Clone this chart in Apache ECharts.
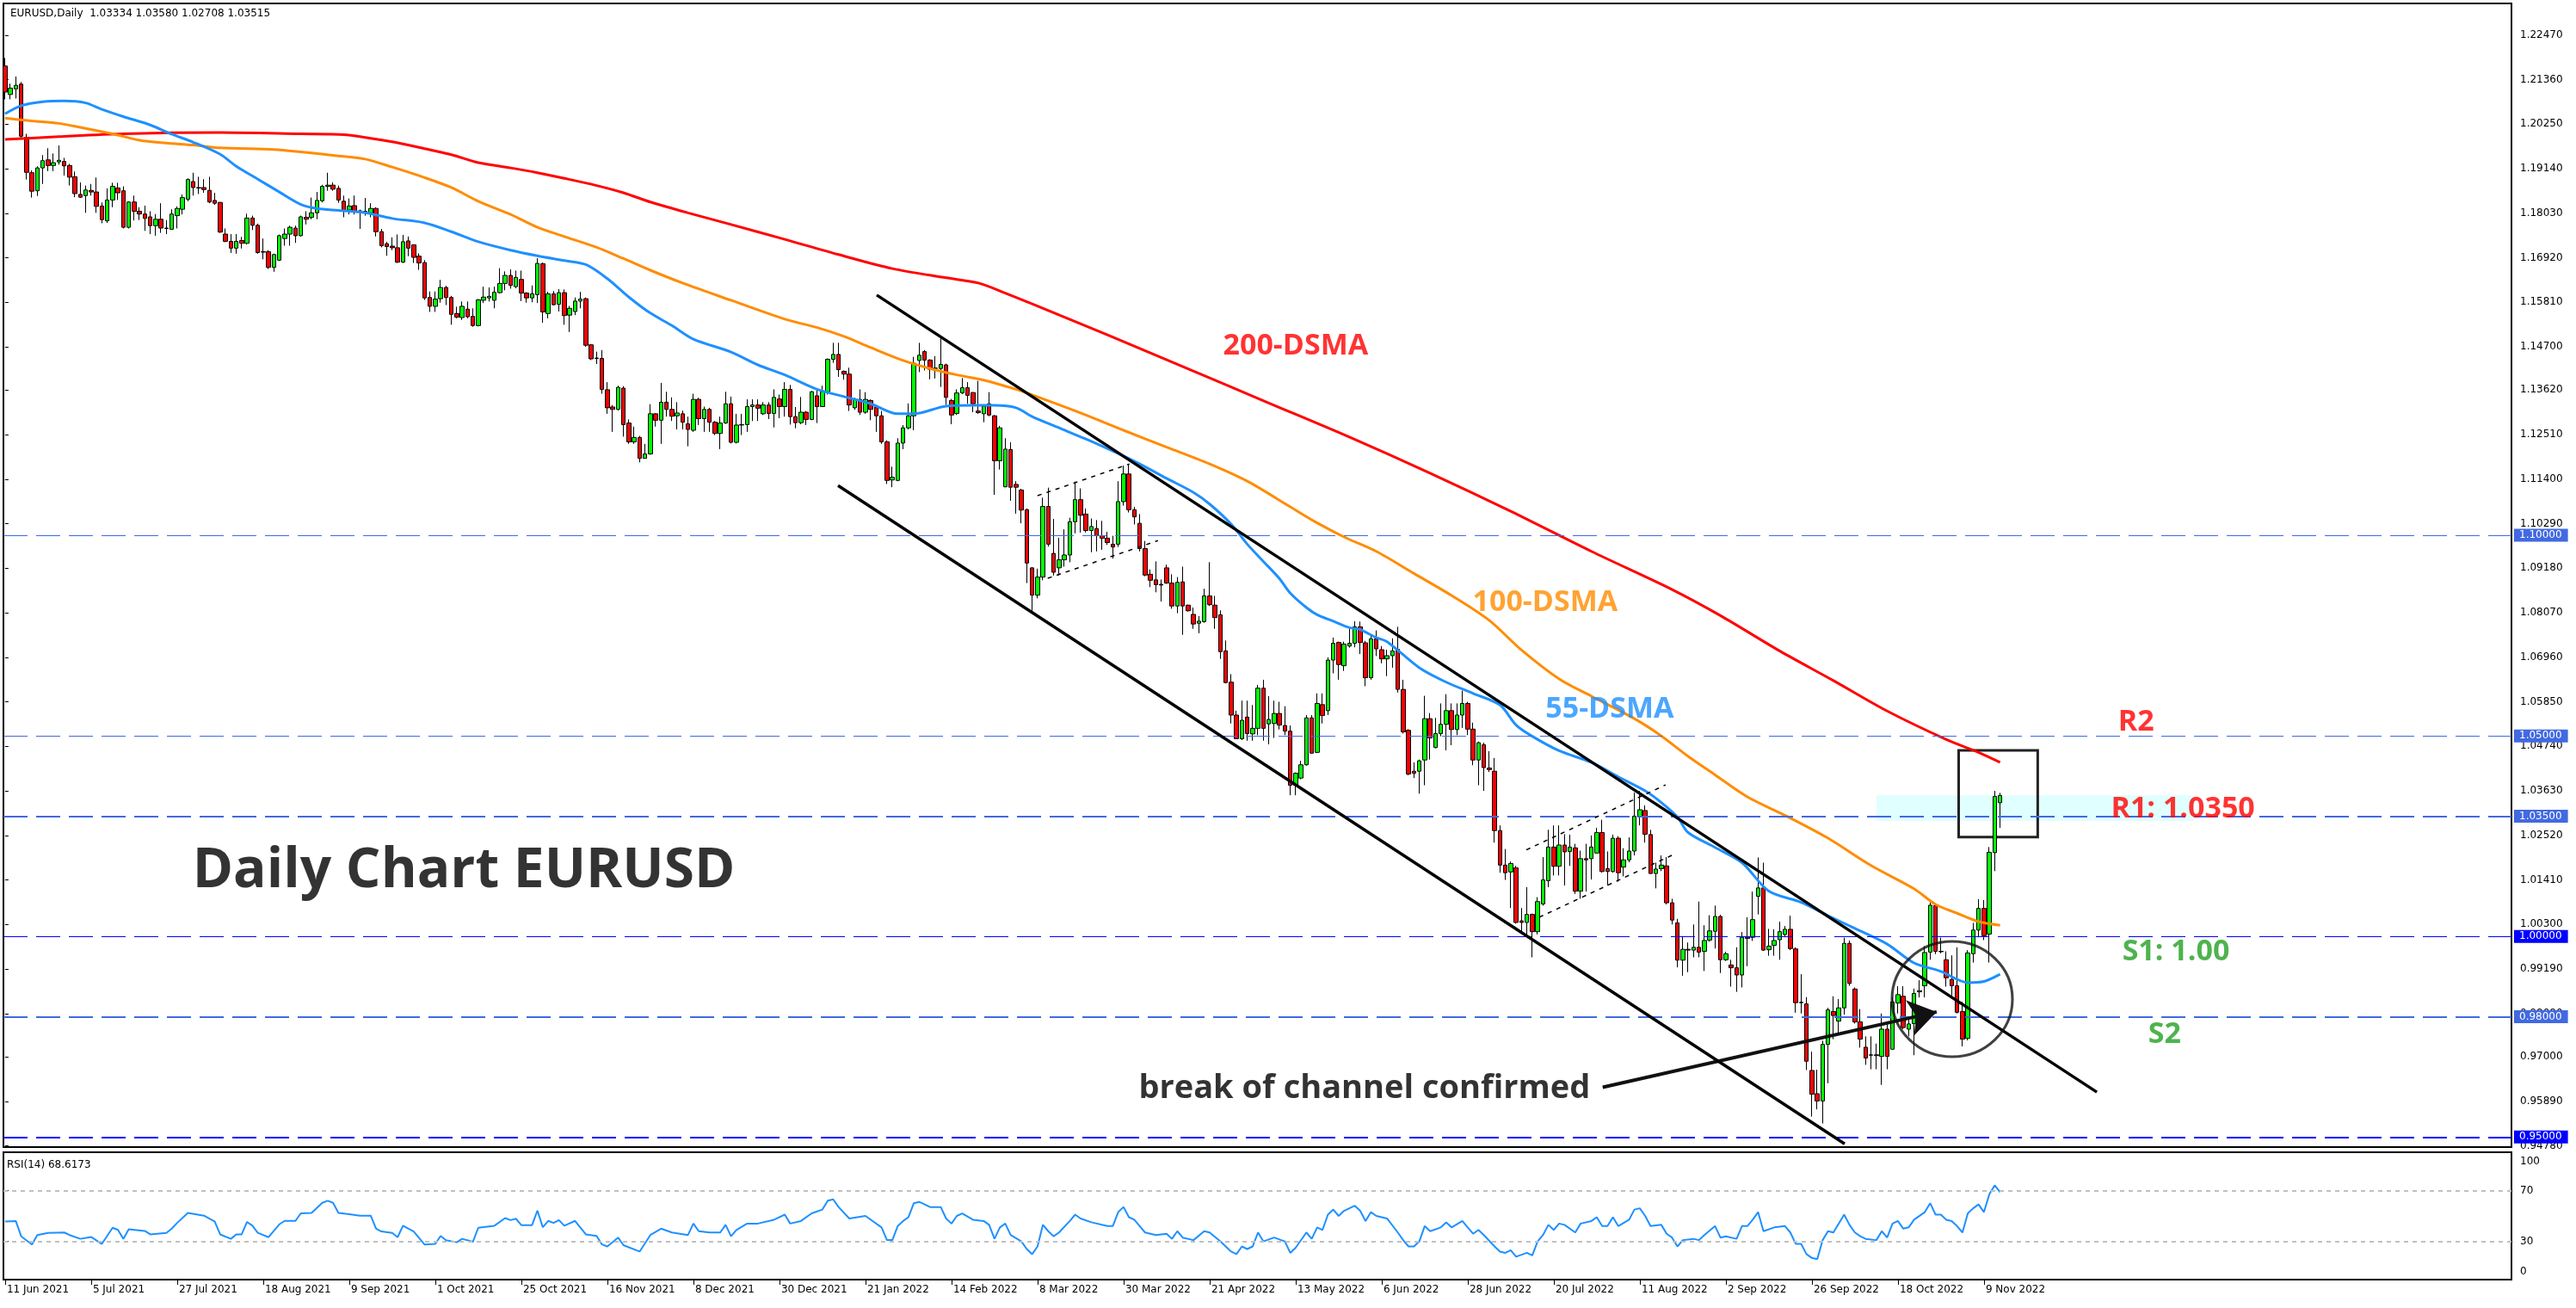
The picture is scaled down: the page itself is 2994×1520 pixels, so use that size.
<!DOCTYPE html>
<html><head><meta charset="utf-8">
<script src="https://cdn.jsdelivr.net/npm/echarts@6/dist/echarts.min.js"></script>
<style>html,body{margin:0;padding:0;background:#fff}#c{width:2994px;height:1520px}</style>
</head><body><div id="c"></div>
<script>
// ---------------- DATA ----------------
const symbolName = 'EURUSD,Daily';
const lastQuote = '1.03334 1.03580 1.02708 1.03515';

const opens = [
1.2170,1.2099,1.2113,1.2125,1.1992,1.1904,1.1859,1.1916,1.1936,1.1922,
1.1931,1.1932,1.1922,1.1894,1.1850,1.1847,1.1860,1.1856,1.1821,1.1784,
1.1836,1.1866,1.1859,1.1768,1.1831,1.1808,1.1801,1.1794,1.1772,1.1788,
1.1766,1.1763,1.1797,1.1813,1.1838,1.1882,1.1867,1.1867,1.1860,1.1835,
1.1830,1.1751,1.1733,1.1716,1.1735,1.1728,1.1791,1.1773,1.1707,1.1707,
1.1668,1.1686,1.1740,1.1751,1.1766,1.1747,1.1793,1.1793,1.1804,1.1834,
1.1870,1.1873,1.1865,1.1833,1.1811,1.1822,1.1809,1.1808,1.1804,1.1815,
1.1757,1.1727,1.1721,1.1717,1.1681,1.1734,1.1724,1.1696,1.1680,1.1593,
1.1571,1.1590,1.1618,1.1593,1.1553,1.1543,1.1564,1.1546,1.1523,1.1586,
1.1592,1.1586,1.1605,1.1628,1.1648,1.1620,1.1638,1.1604,1.1592,1.1600,
1.1677,1.1553,1.1602,1.1576,1.1605,1.1549,1.1558,1.1584,1.1590,1.1475,
1.1442,1.1441,1.1363,1.1320,1.1314,1.1367,1.1280,1.1233,1.1244,1.1192,
1.1203,1.1303,1.1287,1.1332,1.1314,1.1298,1.1303,1.1278,1.1262,1.1339,
1.1291,1.1314,1.1282,1.1254,1.1280,1.1328,1.1232,1.1275,1.1276,1.1321,
1.1325,1.1303,1.1325,1.1304,1.1340,1.1321,1.1364,1.1296,1.1281,1.1307,
1.1289,1.1348,1.1321,1.1358,1.1439,1.1451,1.1409,1.1402,1.1318,1.1339,
1.1307,1.1336,1.1320,1.1298,1.1233,1.1138,1.1137,1.1230,1.1268,1.1298,
1.1436,1.1458,1.1437,1.1416,1.1416,1.1425,1.1336,1.1304,1.1355,1.1368,
1.1356,1.1310,1.1303,1.1328,1.1298,1.1186,1.1121,1.1214,1.1127,1.1113,
1.1064,1.0919,1.0851,1.0896,1.1072,1.0955,1.0919,1.0939,1.0951,1.1034,
1.1089,1.1053,1.1012,1.1017,1.0999,1.0993,1.0978,1.0978,1.1084,1.1153,
1.1064,1.1030,1.0967,1.0903,1.0889,1.0878,1.0919,1.0881,1.0824,1.0884,
1.0826,1.0803,1.0781,1.0785,1.0849,1.0826,1.0802,1.0712,1.0634,1.0552,
1.0493,1.0547,1.0505,1.0519,1.0619,1.0530,1.0531,1.0556,1.0526,1.0512,
1.0377,1.0395,1.0428,1.0545,1.0459,1.0578,1.0563,1.0689,1.0733,1.0675,
1.0724,1.0731,1.0772,1.0732,1.0645,1.0742,1.0715,1.0692,1.0700,1.0716,
1.0616,1.0514,1.0412,1.0412,1.0440,1.0543,1.0471,1.0506,1.0529,1.0563,
1.0516,1.0552,1.0581,1.0517,1.0440,1.0478,1.0420,1.0412,1.0264,1.0178,
1.0161,1.0171,1.0039,1.0035,1.0055,1.0012,1.0081,1.0139,1.0223,1.0175,
1.0228,1.0212,1.0221,1.0113,1.0194,1.0194,1.0208,1.0259,1.0169,1.0162,
1.0245,1.0173,1.0191,1.0213,1.0298,1.0314,1.0254,1.0157,1.0169,1.0176,
1.0084,1.0034,0.9941,0.9968,0.9966,0.9973,0.9963,0.9991,1.0013,1.0050,
0.9942,0.9929,0.9922,0.9904,0.9998,0.9998,1.0100,1.0121,0.9967,0.9978,
0.9992,1.0005,1.0018,0.9969,0.9835,0.9832,0.9666,0.9608,0.9590,0.9731,
0.9813,0.9789,0.9822,0.9983,0.9869,0.9787,0.9724,0.9704,0.9705,0.9701,
0.9769,0.9719,0.9834,0.9851,0.9769,0.9783,0.9862,0.9877,0.9961,1.0077,
0.9963,0.9942,0.9893,0.9877,0.9813,0.9746,0.9957,1.0016,1.0070,1.0006,
1.0209,1.03334];

const highs = [
1.2190,1.2126,1.2144,1.2130,1.2001,1.1910,1.1920,1.1948,1.1965,1.1952,
1.1972,1.1941,1.1926,1.1907,1.1880,1.1872,1.1876,1.1892,1.1830,1.1865,
1.1879,1.1879,1.1870,1.1833,1.1847,1.1818,1.1822,1.1808,1.1801,1.1828,
1.1786,1.1813,1.1820,1.1850,1.1890,1.1904,1.1894,1.1888,1.1894,1.1854,
1.1831,1.1765,1.1751,1.1751,1.1744,1.1802,1.1797,1.1777,1.1740,1.1711,
1.1702,1.1750,1.1765,1.1772,1.1772,1.1797,1.1808,1.1842,1.1856,1.1874,
1.1904,1.1880,1.1872,1.1847,1.1840,1.1847,1.1812,1.1841,1.1828,1.1818,
1.1764,1.1732,1.1743,1.1750,1.1749,1.1745,1.1725,1.1703,1.1686,1.1608,
1.1608,1.1637,1.1622,1.1597,1.1570,1.1583,1.1583,1.1566,1.1589,1.1620,
1.1618,1.1620,1.1666,1.1658,1.1663,1.1660,1.1660,1.1606,1.1623,1.1691,
1.1680,1.1607,1.1609,1.1614,1.1613,1.1572,1.1593,1.1607,1.1593,1.1477,
1.1458,1.1462,1.1382,1.1325,1.1373,1.1372,1.1289,1.1271,1.1248,1.1228,
1.1327,1.1305,1.1380,1.1358,1.1344,1.1332,1.1311,1.1296,1.1353,1.1343,
1.1321,1.1318,1.1285,1.1296,1.1358,1.1346,1.1303,1.1303,1.1339,1.1339,
1.1339,1.1332,1.1332,1.1364,1.1351,1.1382,1.1375,1.1320,1.1345,1.1310,
1.1360,1.1366,1.1373,1.1441,1.1480,1.1480,1.1411,1.1418,1.1343,1.1364,
1.1357,1.1339,1.1323,1.1310,1.1237,1.1171,1.1242,1.1275,1.1329,1.1445,
1.1480,1.1462,1.1439,1.1447,1.1493,1.1428,1.1340,1.1364,1.1392,1.1382,
1.1357,1.1385,1.1325,1.1357,1.1300,1.1273,1.1242,1.1232,1.1135,1.1116,
1.1067,1.0921,1.0917,1.1094,1.1119,1.1041,1.0994,1.1015,1.1044,1.1134,
1.1117,1.1067,1.1042,1.1038,1.1036,1.1009,1.0999,1.1135,1.1174,1.1178,
1.1071,1.1053,1.0986,1.0915,1.0935,1.0890,1.0927,1.0903,1.0896,1.0922,
1.0827,1.0820,1.0799,1.0867,1.0933,1.0849,1.0813,1.0738,1.0654,1.0563,
1.0588,1.0588,1.0577,1.0627,1.0640,1.0599,1.0588,1.0585,1.0574,1.0526,
1.0409,1.0438,1.0552,1.0552,1.0606,1.0606,1.0696,1.0745,1.0735,1.0735,
1.0767,1.0786,1.0785,1.0737,1.0750,1.0763,1.0724,1.0715,1.0743,1.0772,
1.0640,1.0517,1.0434,1.0441,1.0600,1.0557,1.0545,1.0581,1.0604,1.0581,
1.0581,1.0613,1.0585,1.0533,1.0486,1.0483,1.0462,1.0445,1.0277,1.0218,
1.0187,1.0176,1.0071,1.0123,1.0057,1.0098,1.0198,1.0266,1.0277,1.0277,
1.0255,1.0254,1.0231,1.0214,1.0231,1.0252,1.0271,1.0291,1.0212,1.0254,
1.0250,1.0220,1.0247,1.0359,1.0363,1.0327,1.0266,1.0184,1.0202,1.0198,
1.0094,1.0044,1.0001,0.9985,1.0030,1.0087,1.0028,1.0053,1.0077,1.0054,
0.9962,0.9942,0.9973,1.0011,1.0048,1.0112,1.0197,1.0184,1.0019,1.0018,
1.0037,1.0026,1.0052,0.9973,0.9906,0.9849,0.9713,0.9668,0.9740,0.9822,
0.9851,0.9844,0.9997,0.9990,0.9873,0.9819,0.9751,0.9751,0.9733,0.9808,
0.9783,0.9849,0.9876,0.9876,0.9794,0.9870,0.9891,0.9976,1.0085,1.0080,
0.9997,0.9963,0.9953,0.9973,0.9837,0.9966,1.0034,1.0093,1.0091,1.0223,
1.0363,1.03580];

const lows = [
1.2087,1.2087,1.2089,1.1987,1.1887,1.1842,1.1846,1.1876,1.1908,1.1908,
1.1924,1.1897,1.1872,1.1843,1.1841,1.1804,1.1847,1.1804,1.1778,1.1779,
1.1818,1.1836,1.1765,1.1765,1.1785,1.1786,1.1759,1.1751,1.1747,1.1754,
1.1751,1.1762,1.1765,1.1800,1.1833,1.1847,1.1851,1.1854,1.1828,1.1824,
1.1754,1.1731,1.1704,1.1702,1.1715,1.1725,1.1761,1.1702,1.1688,1.1664,
1.1657,1.1684,1.1722,1.1722,1.1729,1.1745,1.1775,1.1788,1.1788,1.1830,
1.1859,1.1859,1.1829,1.1793,1.1800,1.1800,1.1764,1.1797,1.1793,1.1745,
1.1718,1.1697,1.1711,1.1679,1.1679,1.1696,1.1679,1.1662,1.1587,1.1557,
1.1557,1.1580,1.1574,1.1525,1.1541,1.1537,1.1541,1.1520,1.1521,1.1579,
1.1583,1.1566,1.1603,1.1611,1.1615,1.1616,1.1584,1.1580,1.1581,1.1579,
1.1530,1.1541,1.1573,1.1558,1.1525,1.1507,1.1549,1.1566,1.1470,1.1437,
1.1427,1.1353,1.1303,1.1258,1.1311,1.1246,1.1228,1.1228,1.1182,1.1191,
1.1201,1.1271,1.1228,1.1296,1.1285,1.1264,1.1264,1.1222,1.1258,1.1275,
1.1258,1.1258,1.1250,1.1215,1.1278,1.1229,1.1229,1.1250,1.1258,1.1285,
1.1285,1.1300,1.1290,1.1269,1.1292,1.1296,1.1276,1.1267,1.1277,1.1275,
1.1287,1.1280,1.1320,1.1351,1.1430,1.1395,1.1388,1.1310,1.1313,1.1300,
1.1303,1.1287,1.1258,1.1228,1.1128,1.1120,1.1135,1.1215,1.1264,1.1262,
1.1407,1.1411,1.1389,1.1391,1.1370,1.1325,1.1277,1.1300,1.1352,1.1328,
1.1307,1.1303,1.1282,1.1297,1.1101,1.1164,1.1120,1.1086,1.1054,1.1030,
1.0881,1.0812,1.0843,1.0888,1.0972,1.0900,1.0900,1.0922,1.0933,1.1005,
1.1007,1.1007,1.0958,1.0960,1.0964,1.0976,1.0942,1.0971,1.1074,1.1057,
1.1027,1.0960,1.0898,1.0871,1.0858,1.0835,1.0879,1.0817,1.0806,1.0752,
1.0810,1.0767,1.0756,1.0782,1.0824,1.0767,1.0692,1.0631,1.0531,1.0492,
1.0490,1.0488,1.0488,1.0502,1.0488,1.0479,1.0495,1.0516,1.0502,1.0352,
1.0352,1.0392,1.0426,1.0456,1.0457,1.0531,1.0552,1.0656,1.0640,1.0662,
1.0720,1.0721,1.0704,1.0624,1.0640,1.0699,1.0681,1.0649,1.0670,1.0608,
1.0506,1.0402,1.0395,1.0356,1.0377,1.0441,1.0469,1.0499,1.0464,1.0477,
1.0502,1.0520,1.0502,1.0427,1.0377,1.0363,1.0410,1.0234,1.0159,1.0141,
1.0071,1.0032,1.0009,0.9999,0.9948,1.0005,1.0077,1.0123,1.0152,1.0152,
1.0127,1.0176,1.0106,1.0094,1.0112,1.0142,1.0207,1.0159,1.0127,1.0159,
1.0137,1.0150,1.0185,1.0202,1.0277,1.0234,1.0156,1.0120,1.0163,1.0080,
1.0030,0.9923,0.9902,0.9911,0.9948,0.9948,0.9914,0.9987,0.9970,0.9909,
0.9939,0.9875,0.9862,0.9873,0.9926,0.9989,1.0055,0.9964,0.9952,0.9952,
0.9942,0.9998,0.9966,0.9810,0.9808,0.9667,0.9551,0.9569,0.9534,0.9634,
0.9744,0.9754,0.9805,0.9877,0.9783,0.9723,0.9680,0.9669,0.9669,0.9630,
0.9669,0.9718,0.9808,0.9769,0.9751,0.9704,0.9848,0.9848,0.9942,0.9956,
0.9958,0.9875,0.9853,0.9808,0.9726,0.9741,0.9935,0.9998,0.9991,0.9935,
1.0163,1.02708];

const closes = [
1.2105,1.2115,1.2122,1.1995,1.1905,1.1858,1.1916,1.1934,1.1922,1.1929,
1.1935,1.1921,1.1893,1.1852,1.1843,1.1861,1.1856,1.1820,1.1787,1.1836,
1.1870,1.1854,1.1768,1.1831,1.1808,1.1801,1.1790,1.1772,1.1788,1.1766,
1.1765,1.1801,1.1815,1.1842,1.1887,1.1867,1.1866,1.1862,1.1831,1.1828,
1.1756,1.1733,1.1716,1.1733,1.1728,1.1791,1.1773,1.1705,1.1706,1.1668,
1.1700,1.1747,1.1751,1.1768,1.1747,1.1794,1.1788,1.1804,1.1835,1.1870,
1.1873,1.1863,1.1836,1.1808,1.1821,1.1808,1.1808,1.1806,1.1815,1.1757,
1.1722,1.1720,1.1717,1.1681,1.1732,1.1716,1.1693,1.1679,1.1592,1.1571,
1.1589,1.1618,1.1593,1.1551,1.1544,1.1571,1.1545,1.1523,1.1587,1.1594,
1.1596,1.1606,1.1628,1.1648,1.1623,1.1643,1.1604,1.1592,1.1602,1.1678,
1.1557,1.1602,1.1575,1.1605,1.1548,1.1566,1.1584,1.1589,1.1474,1.1440,
1.1441,1.1364,1.1318,1.1314,1.1369,1.1276,1.1233,1.1244,1.1192,1.1203,
1.1303,1.1287,1.1332,1.1314,1.1297,1.1305,1.1282,1.1264,1.1339,1.1291,
1.1314,1.1282,1.1254,1.1280,1.1328,1.1232,1.1275,1.1276,1.1321,1.1325,
1.1317,1.1325,1.1304,1.1344,1.1321,1.1364,1.1296,1.1281,1.1307,1.1289,
1.1358,1.1321,1.1358,1.1439,1.1451,1.1413,1.1402,1.1325,1.1339,1.1307,
1.1339,1.1314,1.1298,1.1233,1.1137,1.1145,1.1230,1.1268,1.1298,1.1429,
1.1449,1.1437,1.1414,1.1417,1.1426,1.1344,1.1300,1.1355,1.1368,1.1349,
1.1328,1.1306,1.1322,1.1300,1.1186,1.1268,1.1215,1.1120,1.1120,1.1063,
1.0931,1.0851,1.0896,1.1072,1.0978,1.0908,1.0939,1.0951,1.1034,1.1089,
1.1050,1.1012,1.1022,1.0999,1.0993,1.0982,1.0971,1.1084,1.1153,1.1064,
1.1046,1.0967,1.0901,1.0888,1.0877,1.0876,1.0881,1.0824,1.0883,1.0824,
1.0812,1.0779,1.0786,1.0849,1.0827,1.0795,1.0710,1.0633,1.0552,1.0493,
1.0539,1.0506,1.0519,1.0619,1.0519,1.0541,1.0556,1.0527,1.0512,1.0377,
1.0407,1.0428,1.0545,1.0457,1.0581,1.0551,1.0689,1.0731,1.0678,1.0729,
1.0731,1.0772,1.0733,1.0645,1.0742,1.0717,1.0692,1.0700,1.0712,1.0616,
1.0510,1.0405,1.0407,1.0438,1.0543,1.0495,1.0506,1.0529,1.0563,1.0516,
1.0552,1.0581,1.0517,1.0440,1.0483,1.0421,1.0416,1.0264,1.0178,1.0159,
1.0182,1.0035,1.0035,1.0055,1.0012,1.0087,1.0141,1.0223,1.0175,1.0228,
1.0211,1.0223,1.0113,1.0194,1.0191,1.0223,1.0259,1.0162,1.0162,1.0245,
1.0159,1.0191,1.0213,1.0300,1.0316,1.0255,1.0157,1.0168,1.0178,1.0084,
1.0041,0.9941,0.9968,0.9966,0.9973,0.9961,0.9990,1.0014,1.0050,0.9942,
0.9957,0.9922,0.9904,0.9998,0.9995,1.0042,1.0121,0.9966,0.9976,0.9990,
1.0012,1.0018,0.9970,0.9835,0.9836,0.9689,0.9607,0.9590,0.9731,0.9817,
0.9803,0.9822,0.9983,0.9883,0.9787,0.9744,0.9697,0.9705,0.9703,0.9769,
0.9701,0.9837,0.9855,0.9773,0.9782,0.9858,0.9865,0.9960,1.0078,0.9963,
0.9962,0.9897,0.9877,0.9811,0.9744,0.9959,1.0016,1.0070,1.0002,1.0210,
1.0349,1.03515];

// moving averages: [bar index, value]
const ma55 = [[0,1.2051],[3,1.2071],[7,1.2081],[11,1.2083],[15,1.2078],[18,1.2062],[22,1.2044],[27,1.2023],[31,1.2000],[35,1.1980],[40,1.1950],[43,1.1920],[47,1.1888],[51,1.1856],[55,1.1825],[58,1.1815],[62,1.1810],[67,1.1804],[72,1.1790],[78,1.1779],[83,1.1757],[88,1.1732],[94,1.1711],[99,1.1697],[104,1.1685],[108,1.1675],[112,1.1640],[116,1.1594],[120,1.1554],[124,1.1523],[128,1.1489],[135,1.1457],[140,1.1425],[145,1.1400],[151,1.1364],[156,1.1346],[161,1.1328],[166,1.1303],[169,1.1303],[175,1.1322],[180,1.1324],[184,1.1324],[188,1.1318],[191,1.1296],[196,1.1268],[201,1.1240],[206,1.1210],[211,1.1178],[216,1.1142],[221,1.1107],[224,1.1078],[228,1.1028],[231,1.0978],[234,1.0935],[237,1.0892],[239,1.0856],[242,1.0820],[244,1.0802],[247,1.0786],[250,1.0770],[252,1.0765],[255,1.0745],[257,1.0735],[263,1.0670],[268,1.0634],[273,1.0606],[278,1.0577],[281,1.0527],[284,1.0499],[289,1.0463],[295,1.0434],[300,1.0398],[305,1.0363],[308,1.0334],[311,1.0298],[313,1.0259],[318,1.0222],[323,1.0184],[328,1.0113],[334,1.0085],[339,1.0052],[344,1.0020],[350,0.9981],[355,0.9934],[360,0.9913],[365,0.9885],[368,0.9888],[371,0.9906]];
const ma100 = [[0,1.2040],[5,1.2033],[10,1.2027],[14,1.2017],[20,1.2001],[25,1.1985],[30,1.1978],[35,1.1973],[40,1.1966],[50,1.1962],[55,1.1956],[62,1.1946],[67,1.1938],[72,1.1918],[78,1.1892],[83,1.1867],[88,1.1833],[94,1.1800],[99,1.1768],[104,1.1745],[110,1.1718],[115,1.1690],[120,1.1661],[126,1.1629],[135,1.1586],[145,1.1539],[151,1.1518],[156,1.1496],[161,1.1468],[167,1.1436],[172,1.1416],[177,1.1400],[182,1.1387],[188,1.1364],[191,1.1350],[200,1.1305],[208,1.1262],[216,1.1220],[224,1.1178],[231,1.1135],[239,1.1071],[244,1.1031],[249,1.0996],[255,1.0960],[262,1.0905],[269,1.0850],[276,1.0788],[282,1.0714],[289,1.0642],[295,1.0599],[303,1.0543],[308,1.0500],[313,1.0449],[318,1.0403],[324,1.0348],[331,1.0302],[339,1.0245],[347,1.0177],[355,1.0119],[359,1.0080],[363,1.0058],[367,1.0037],[371,1.0028]];
const ma200 = [[0,1.1987],[10,1.1994],[22,1.2001],[40,1.2004],[55,1.2001],[63,1.1999],[67,1.1992],[72,1.1981],[78,1.1964],[83,1.1949],[88,1.1929],[94,1.1916],[99,1.1904],[104,1.1890],[110,1.1872],[115,1.1854],[120,1.1831],[127,1.1804],[135,1.1775],[145,1.1738],[155,1.1700],[165,1.1665],[175,1.1642],[181,1.1629],[186,1.1604],[191,1.1577],[205,1.1500],[220,1.1415],[235,1.1330],[250,1.1245],[265,1.1155],[280,1.1060],[295,1.0960],[310,1.0865],[319,1.0800],[330,1.0712],[340,1.0638],[350,1.0562],[361,1.0491],[367,1.0459],[371,1.0434]];

// RSI(14): [bar index, value]
const rsi14 = [[0,45.6],[2,46],[3,34],[5,27.5],[6,35],[8,36.7],[11,37],[12,35],[14,32],[16,33.5],[18,28],[20,40.7],[21,39],[22,32],[23,39.6],[26,38.2],[27,35.5],[30,36.7],[31,40],[32,44.5],[34,52.4],[37,50.2],[39,45.6],[40,35.5],[42,32],[43,35.5],[44,35.5],[45,45.3],[46,42.3],[47,36.7],[49,33.3],[51,43.4],[52,46.1],[54,46.1],[55,52],[57,52.4],[59,60.3],[60,61.9],[61,60.3],[62,52.4],[64,51.3],[66,50.2],[68,50.2],[69,40],[70,37.8],[72,36.7],[73,33.3],[74,42.3],[76,37.8],[78,27.6],[80,28],[81,34.3],[82,30.9],[84,29.3],[85,32],[87,29.7],[88,40.7],[91,42.3],[93,48.3],[94,46.7],[95,47.8],[96,42.8],[98,42.8],[99,54.2],[100,41.1],[101,46.1],[102,44.5],[103,46.7],[104,42.3],[106,46.1],[108,35.5],[110,34.3],[111,27.6],
[112,26],[114,33],[115,27],[118,22],[120,35],[122,40],[124,37],[127,35],[128,44],[129,38],[131,37],[133,37],[134,43],[135,34],[136,39],[138,44],[140,44],[143,47],[145,51],[146,44],[148,46],[150,52],[152,55],[153,62],[154,63],[155,57],[157,48],[160,50],[163,41],[164,31],[165,31],[166,42],[167,46],[168,49],[169,60],[170,61],[172,57],[174,57],[175,48],[176,44],[177,50],[178,52],[180,47],[182,46],[183,43],[184,32],[185,41],[186,44],[187,35],[189,30],[190,24],[191,20],[192,26],[193,43],[194,38],[195,34],[196,37],[198,46],[199,51],[200,48],[202,45],[205,42],[206,42],[207,53],[208,57],[209,49],[210,47],[211,42],[212,37],[214,35],[216,36],[217,32],[218,38],[219,33],[221,31],[223,38],[224,37],[226,30],[227,26],[228,22],[229,20],[230,26],[231,24],[232,26],[233,37],[234,30],[236,33],[238,30],[239,21],[240,25],[242,37],[243,32],[244,41],[245,39],[246,51],[247,55],[248,50],[249,54],[251,58],[252,54],[253,46],[254,53],[255,50],[257,48],[259,37],[260,31],[261,26],[262,26],[263,30],[264,42],[265,38],[267,41],[268,45],[269,41],[271,46],[272,41],[273,36],[274,39],[275,35],[277,26],[278,22],[279,21],[280,23],[281,18],[283,21],[284,19],[285,30],[286,35],[287,43],[288,39],[289,44],[290,43],[292,37],[293,44],[295,46],[296,49],[297,42],[298,42],[299,49],[300,42],[302,47],[303,55],[304,56],[305,50],[306,42],[308,43],[309,36],[310,33],[311,26],[312,31],[314,32],[315,31],[316,35],[318,42],[319,33],[320,34],[322,32],[323,42],[324,42],[325,47],[326,53],[327,38],[329,41],[331,42],[332,37],[333,28],[334,28],[335,20],[336,17],[337,16],[338,31],[339,38],[340,37],[342,51],[343,43],[344,37],[345,34],[346,32],[348,31],[349,38],[350,33],[351,44],[352,46],[353,40],[354,41],[355,47],[357,53],[358,60],[359,51],[360,51],[361,47],[362,46],[363,42],[364,37],[365,52],[366,56],[367,59],[368,53],[369,67],[370,74],[371,68.6173]];

// axes
const dateTickIndex = [0,16,32,48,64,80,96,112,128,144,160,176,192,208,224,240,256,272,288,304,320,336,352,368];
const dateTickLabels = ['11 Jun 2021','5 Jul 2021','27 Jul 2021','18 Aug 2021','9 Sep 2021','1 Oct 2021','25 Oct 2021','16 Nov 2021','8 Dec 2021','30 Dec 2021','21 Jan 2022','14 Feb 2022','8 Mar 2022','30 Mar 2022','21 Apr 2022','13 May 2022','6 Jun 2022','28 Jun 2022','20 Jul 2022','11 Aug 2022','2 Sep 2022','26 Sep 2022','18 Oct 2022','9 Nov 2022'];
const priceTicks = [1.22470,1.21360,1.20250,1.19140,1.18030,1.16920,1.15810,1.14700,1.13620,1.12510,1.11400,1.10290,1.09180,1.08070,1.06960,1.05850,1.04740,1.03630,1.02520,1.01410,1.00300,0.99190,0.98080,0.97000,0.95890,0.94780];
const rsiTicks = [0,30,70,100];
const rsiLevels = [30,70];

// horizontal levels
const levelValues = [1.10, 1.05, 1.035, 1.00, 0.98, 0.95];

// drawn objects (data coordinates: bar index, price)
const channelUpper = [[162.1,1.1599],[389,0.9612]];
const channelLower = [[154.9,1.1124],[342.1,0.9483]];
const flag1Upper = [[192,1.1099],[209.1,1.1178]];
const flag1Lower = [[193.9,1.0893],[214.4,1.0987]];
const flag2Upper = [[282.9,1.0216],[308.8,1.0378]];
const flag2Lower = [[285.3,1.0048],[310.7,1.0207]];
const arrowLine = [[297.1,0.9624],[359.2,0.9812]];
const circleCenter = [362.1,0.9844];
const resistanceZone = [[348,1.0352],[407,1.0288]];
const focusBox = [[363.3,1.0464],[378,1.0248]];
const annotationTexts = ['200-DSMA','100-DSMA','55-DSMA','R2','R1: 1.0350','S1: 1.00','S2','Daily Chart EURUSD','break of channel confirmed'];
const annotationAnchors = [[240,1.1472],[286.4,1.0833],[298.4,1.0566],[396.3,1.0534],[405,1.0318],[403.7,0.9961],[401.6,0.9755],[85.3,1.0161],[252.8,0.9620]];

// ---------------- STYLE / BUILD ----------------
const annStyle = [
  {color:'#FF0000', size:34},{color:'#FF8C00', size:34},{color:'#1E90FF', size:34},
  {color:'#FF0000', size:34},{color:'#FF0000', size:34},{color:'#22A022', size:34},
  {color:'#22A022', size:34},{color:'#000000', size:64},{color:'#000000', size:38}];
const levelLook = [
  {line:'#4169E1', w:1, box:'#4169E1'}, {line:'#4169E1', w:1, box:'#4169E1'},
  {line:'#4169E1', w:2, box:'#4169E1'}, {line:'#0000FF', w:1, box:'#0000FF'},
  {line:'#4169E1', w:2, box:'#4169E1'}, {line:'#0000FF', w:2, box:'#0000FF'}];

const X_MIN = -0.3, X_MAX = 466.1;
const candleData = closes.map((c,i)=>[i, opens[i], c, lows[i], highs[i]]);
const FONT = 'DejaVu Sans';

const chart = echarts.init(document.getElementById('c'), null, {renderer:'canvas', width:2994, height:1520});

function seg(data, style, z){
  return {type:'line', xAxisIndex:0, yAxisIndex:0, data:data, showSymbol:false, symbol:'none',
    lineStyle:style, z:z, silent:true, animation:false};
}

const option = {
  animation:false,
  backgroundColor:'#ffffff',
  grid:[
    {left:4, right:75, top:4, height:1329, show:true, borderColor:'#000', borderWidth:2, backgroundColor:'#fff'},
    {left:4, right:75, top:1339, height:148, show:true, borderColor:'#000', borderWidth:2, backgroundColor:'#fff'}
  ],
  xAxis:[
    {type:'value', gridIndex:0, min:X_MIN, max:X_MAX, show:false, splitLine:{show:false}},
    {type:'value', gridIndex:1, min:X_MIN, max:X_MAX, position:'bottom',
      axisLine:{show:true, lineStyle:{color:'#000', width:2}},
      splitLine:{show:false},
      axisTick:{show:true, customValues:dateTickIndex, length:6, lineStyle:{color:'#000'}},
      axisLabel:{show:true, customValues:dateTickIndex, align:'left', margin:6, padding:[0,0,0,2],
        color:'#000', fontFamily:FONT, fontSize:12,
        formatter:(v)=>{const k=dateTickIndex.indexOf(Math.round(v)); return k>=0?dateTickLabels[k]:'';}}}
  ],
  yAxis:[
    {type:'value', gridIndex:0, position:'right', min:0.9475, max:1.2326,
      axisLine:{show:false}, splitLine:{show:false},
      axisTick:{show:true, customValues:priceTicks, length:4, lineStyle:{color:'#000'}},
      axisLabel:{show:true, customValues:priceTicks, margin:10, color:'#000', fontFamily:FONT, fontSize:12,
        formatter:(v)=>v.toFixed(5)}},
    {type:'value', gridIndex:1, position:'right', min:0, max:100,
      axisLine:{show:false}, splitLine:{show:false},
      axisTick:{show:true, customValues:rsiTicks, length:4, lineStyle:{color:'#000'}},
      axisLabel:{show:true, customValues:rsiTicks, margin:10, color:'#000', fontFamily:FONT, fontSize:12,
        formatter:(v)=> v===100 ? '{d|100}' : (v===0 ? '{u|0}' : String(v)),
        rich:{d:{padding:[22,0,0,0], fontFamily:FONT, fontSize:12, color:'#000'},
              u:{padding:[0,0,18,0], fontFamily:FONT, fontSize:12, color:'#000'}}}}
  ],
  graphic:[
    {type:'text', left:12, top:10, z:100, style:{text:symbolName + '  ' + lastQuote, font:'12px "DejaVu Sans"', fill:'#000'}},
    {type:'text', left:8, top:1348, z:100, style:{text:'RSI(14) ' + rsi14[rsi14.length-1][1].toFixed(4), font:'12px "DejaVu Sans"', fill:'#000'}}
  ],
  series:[
    // background zone (light cyan)
    {type:'line', xAxisIndex:0, yAxisIndex:0, data:[resistanceZone[0]], symbol:'none', lineStyle:{opacity:0}, z:1, silent:true,
      markArea:{silent:true, itemStyle:{color:'#E0FFFF'}, data:[[{coord:resistanceZone[0]},{coord:resistanceZone[1]}]]}},
    // candles + horizontal levels
    {type:'candlestick', xAxisIndex:0, yAxisIndex:0, data:candleData, encode:{x:0, y:[1,2,3,4]},
      barWidth:5, z:3, silent:true,
      itemStyle:{color:'#00FF00', color0:'#FF0000', borderColor:'#000000', borderColor0:'#000000', borderColorDoji:'#000000', borderWidth:1},
      markLine:{silent:true, symbol:['none','none'], animation:false,
        data: levelValues.map((v,k)=>({yAxis:v,
          lineStyle:{color:levelLook[k].line, width:levelLook[k].w, type:[28,10]},
          label:{show:true, position:'end', distance:3, formatter:v.toFixed(5), color:'#fff',
            backgroundColor:levelLook[k].box, padding:[2,7,1,6], fontFamily:FONT, fontSize:12}}))}},
    // moving averages
    {type:'line', name:'MA200', xAxisIndex:0, yAxisIndex:0, data:ma200, showSymbol:false, symbol:'none', smooth:0.3,
      lineStyle:{color:'#FF0000', width:3}, z:4, silent:true},
    {type:'line', name:'MA100', xAxisIndex:0, yAxisIndex:0, data:ma100, showSymbol:false, symbol:'none', smooth:0.3,
      lineStyle:{color:'#FF8C00', width:3}, z:4, silent:true},
    {type:'line', name:'MA55', xAxisIndex:0, yAxisIndex:0, data:ma55, showSymbol:false, symbol:'none', smooth:0.3,
      lineStyle:{color:'#1E90FF', width:3}, z:4, silent:true},
    // channel
    seg(channelUpper, {color:'#000', width:3.5}, 5),
    seg(channelLower, {color:'#000', width:3.5}, 5),
    // small dashed flags
    seg(flag1Upper, {color:'#000', width:1.5, type:[5,6]}, 5),
    seg(flag1Lower, {color:'#000', width:1.5, type:[5,6]}, 5),
    seg(flag2Upper, {color:'#000', width:1.5, type:[5,6]}, 5),
    seg(flag2Lower, {color:'#000', width:1.5, type:[5,6]}, 5),
    // arrow + focus box
    {type:'line', xAxisIndex:0, yAxisIndex:0, data:[arrowLine[0]], symbol:'none', lineStyle:{opacity:0}, z:6, silent:true,
      markLine:{silent:true, animation:false, symbol:['none','arrow'], symbolSize:32,
        lineStyle:{color:'#111', width:4, type:'solid'}, itemStyle:{color:'#111'}, label:{show:false},
        data:[[{coord:arrowLine[0]},{coord:arrowLine[1]}]]},
      markArea:{silent:true, itemStyle:{color:'rgba(0,0,0,0)', borderColor:'#222', borderWidth:3},
        data:[[{coord:focusBox[0]},{coord:focusBox[1]}]]}},
    // circle
    {type:'scatter', xAxisIndex:0, yAxisIndex:0, data:[circleCenter], symbol:'circle', symbolSize:[140,134],
      itemStyle:{color:'rgba(0,0,0,0)', borderColor:'#111', borderWidth:3}, z:6, silent:true},
    // annotation texts
    {type:'scatter', xAxisIndex:0, yAxisIndex:0, symbolSize:1, itemStyle:{color:'rgba(0,0,0,0)'}, z:7, silent:true,
      label:{show:true, position:'inside', formatter:'{b}', fontFamily:'Open Sans', fontWeight:'bold'},
      data: annotationTexts.map((t,k)=>({name:t, value:annotationAnchors[k],
        label:{color:annStyle[k].color, fontSize:annStyle[k].size}}))},
    // RSI
    {type:'line', xAxisIndex:1, yAxisIndex:1, data:rsi14, showSymbol:false, symbol:'none',
      lineStyle:{color:'#1E90FF', width:2}, z:4, silent:true,
      markLine:{silent:true, symbol:['none','none'], label:{show:false},
        lineStyle:{color:'#C0C0C0', width:2, type:[5,5]},
        data: rsiLevels.map(v=>({yAxis:v}))}}
  ]
};
chart.setOption(option);
</script>
</body></html>
